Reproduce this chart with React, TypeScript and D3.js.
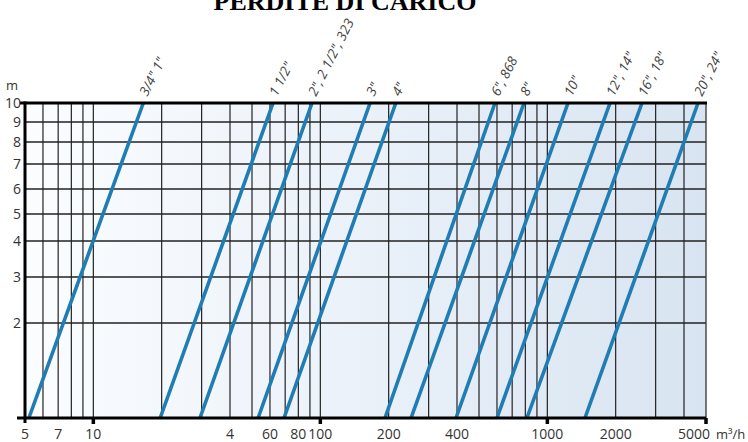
import React from "react";
import * as d3 from "d3";

const W = 748;
const H = 442;

// pipe size lines: flow (m³/h) at 1 m and at 10 m of head loss
const lineLabels = [
  '3/4" 1"',
  '1 1/2"',
  '2", 2 1/2", 323',
  '3"',
  '4"',
  '6", 868',
  '8"',
  '10"',
  '12", 14"',
  '16", 18"',
  '20", 24"',
];
const qAt1m = [5.2, 19.7, 29.5, 53.2, 69.2, 192.7, 251, 396, 600, 813, 1465];
const qAt10m = [16.6, 61.9, 91.9, 165.6, 215, 588, 789, 1233, 1888, 2612, 4611];

const xGrid = [5, 6, 7, 8, 9, 10, 20, 30, 40, 50, 60, 70, 80, 90, 100, 200, 300, 400, 500, 600, 700, 800, 900, 1000, 2000, 3000, 4000];
const xTickValues = [5, 7, 10, 40, 60, 80, 100, 200, 400, 1000, 2000, 5000];
const xTickLabels = ["5", "7", "10", "4", "60", "80", "100", "200", "400", "1000", "2000", "5000"];
const xMajorTicks = [10, 100, 1000, 5000];

const yValues = [1, 2, 3, 4, 5, 6, 7, 8, 9, 10];
const yPixels = [418, 323, 277, 241, 214, 189, 164, 142, 122, 103];
const yGrid = [2, 3, 4, 5, 6, 7, 8, 9];
const yTickLabels = ["10", "9", "8", "7", "6", "5", "4", "3", "2"];
const yTickValues = [10, 9, 8, 7, 6, 5, 4, 3, 2];

export default function App() {
  const x = d3.scaleLog().domain([5, 5000]).range([25, 706]);
  const y = d3.scaleLinear().domain(yValues).range(yPixels);
  const x0 = x(5);
  const x1 = x(5000);
  const yTop = y(10);
  const yBot = y(1);
  const sans = "'Open Sans', 'DejaVu Sans', sans-serif";
  const lastTick = xTickValues.length - 1;

  return (
    <svg width={W} height={H} style={{ position: "absolute", left: 0, top: 0, background: "#fff" }}>
      <defs>
        <linearGradient id="bg" x1="0" y1="0" x2="1" y2="0">
          <stop offset="0" stopColor="#fbfdff" />
          <stop offset="0.5" stopColor="#eaf1f9" />
          <stop offset="1" stopColor="#d8e4f1" />
        </linearGradient>
      </defs>
      <text x={345} y={10} textAnchor="middle" fontFamily="'Liberation Serif', 'Times New Roman', serif" fontWeight="bold" fontSize={26} fill="#000">
        PERDITE DI CARICO
      </text>
      <rect x={x0} y={yTop} width={x1 - x0} height={yBot - yTop} fill="url(#bg)" />
      {xGrid.map((v) => (
        <line key={"xg" + v} x1={x(v)} x2={x(v)} y1={yTop} y2={yBot} stroke="#222" strokeWidth={1.2} />
      ))}
      {yGrid.map((v) => (
        <line key={"yg" + v} x1={x0} x2={x1} y1={y(v)} y2={y(v)} stroke="#222" strokeWidth={1.5} />
      ))}
      <line x1={x1} x2={x1} y1={yTop} y2={yBot} stroke="#333" strokeWidth={1.3} />
      {lineLabels.map((lab, i) => (
        <line
          key={"l" + i}
          x1={x(qAt1m[i])}
          y1={yBot}
          x2={x(qAt10m[i])}
          y2={yTop}
          stroke="#1f7db3"
          strokeWidth={3.6}
        />
      ))}
      {lineLabels.map((lab, i) => {
        const tx = x(qAt10m[i]) + 4;
        const ty = yTop - 6;
        return (
          <text
            key={"t" + i}
            x={tx}
            y={ty}
            transform={`rotate(-63 ${tx} ${ty})`}
            fontFamily={sans}
            fontStyle="italic"
            fontSize={13.5}
            fill="#444"
          >
            {lab}
          </text>
        );
      })}
      {/* axes */}
      <line x1={20} x2={x1 + 1} y1={yTop} y2={yTop} stroke="#000" strokeWidth={3} />
      <line x1={17} x2={x1} y1={yBot} y2={yBot} stroke="#000" strokeWidth={3} />
      <line x1={x0} x2={x0} y1={yTop - 1.5} y2={yBot + 5} stroke="#000" strokeWidth={3} />
      {xMajorTicks.map((v) => (
        <line key={"mt" + v} x1={x(v)} x2={x(v)} y1={yBot} y2={yBot + 6} stroke="#000" strokeWidth={3.5} />
      ))}
      {xTickValues.map((v, i) => (
        <text
          key={"xt" + v}
          x={i === lastTick ? x(v) + 4 : x(v)}
          y={439}
          textAnchor={i === lastTick ? "end" : "middle"}
          fontFamily={sans}
          fontSize={14}
          fill="#333"
        >
          {xTickLabels[i]}
        </text>
      ))}
      <text x={716} y={439} fontFamily={sans} fontSize={13} fill="#333">
        m³/h
      </text>
      {yTickValues.map((v, i) => (
        <text key={"yt" + v} x={21} y={y(v)} dy="0.36em" textAnchor="end" fontFamily={sans} fontSize={14} fill="#333">
          {yTickLabels[i]}
        </text>
      ))}
      <text x={6} y={90} fontFamily={sans} fontSize={13} fill="#333">
        m
      </text>
    </svg>
  );
}
